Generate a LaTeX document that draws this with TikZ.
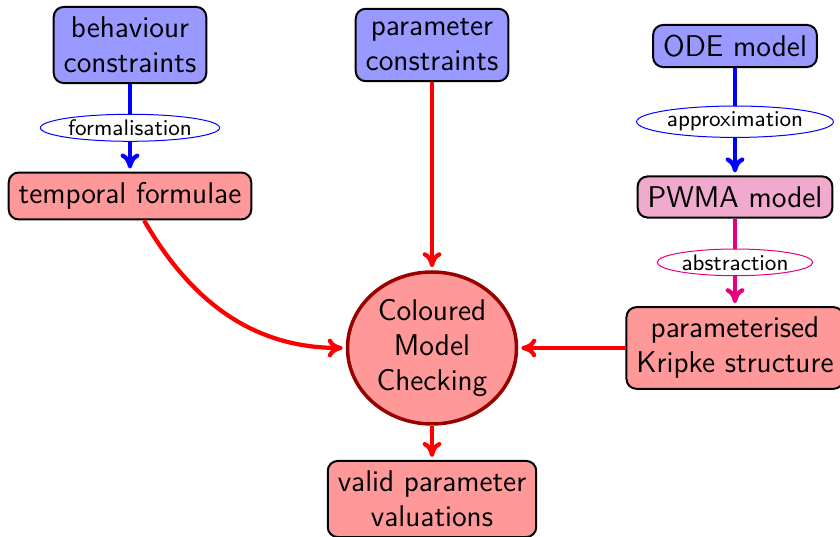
\documentclass[tikz,border=0pt]{standalone}
\usetikzlibrary{shapes.geometric,arrows.meta}
\definecolor{magc}{RGB}{230,0,126}
\definecolor{pwmafill}{RGB}{240,170,205}
\definecolor{cmcborder}{RGB}{153,0,0}
\tikzset{
  box/.style={draw=black, line width=0.8pt, rounded corners=4pt, inner xsep=4pt, inner ysep=4pt, align=center,
    font=\sffamily\fontsize{12}{14}\selectfont},
  bluebox/.style={box, fill=blue!40},
  redbox/.style={box, fill=red!40},
  pinkbox/.style={box, fill=pwmafill},
  lbl/.style={ellipse, fill=white, line width=0.4pt, inner sep=0.6pt, text=black,
    font=\sffamily\fontsize{9}{10}\selectfont},
  arr/.style={line width=1.7pt, -{To[length=6pt,width=7.5pt,round]}, shorten >=1.2pt},
}
\begin{document}
\begin{tikzpicture}[x=0.4pt,y=-0.4pt]
\useasboundingbox (0,0) rectangle (840,537);
\node[bluebox] (bc) at (130,45) {behaviour\\constraints};
\node[bluebox] (pc) at (432,45) {parameter\\constraints};
\node[bluebox] (ode) at (735,46) {ODE model};
\node[redbox] (tf) at (130,196) {temporal formulae};
\node[pinkbox] (pwma) at (735,197) {PWMA model};
\node[redbox] (pks) at (735,348) {parameterised\\Kripke structure};
\node[ellipse, draw=cmcborder, line width=1.4pt, fill=red!40, minimum width=67.6pt,
  minimum height=60.8pt, inner sep=0pt, align=center,
  font=\sffamily\fontsize{12}{14}\selectfont] (cmc) at (432,348) {Coloured\\Model\\Checking};
\node[redbox] (vpv) at (432,499) {valid parameter\\valuations};
\draw[arr, blue] (bc) -- node[lbl, draw=blue] (l1) {formalisation} (tf);
\draw[arr, blue] (ode) -- node[lbl, draw=blue] (l2) {approximation} (pwma);
\draw[arr, magc] (pwma) -- node[lbl, draw=magc] (l3) {abstraction} (pks);
\draw[arr, red] (pc) -- (cmc);
\draw[arr, red] (tf) to[out=-60, in=180] (cmc);
\draw[arr, red] (pks) -- (cmc);
\draw[arr, red] (cmc) -- (vpv);
\end{tikzpicture}
\end{document}
